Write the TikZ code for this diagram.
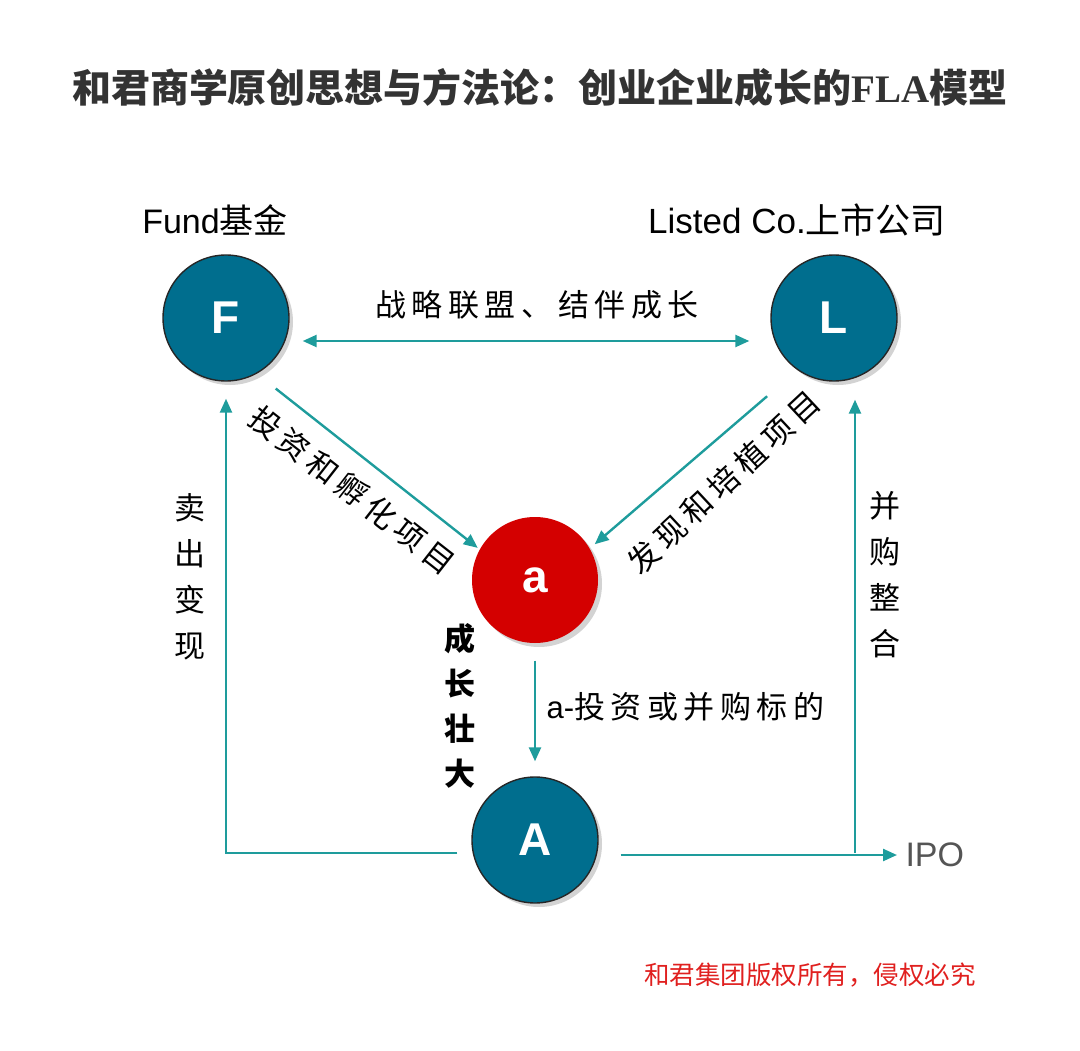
\documentclass[tikz,border=0pt]{standalone}
\usepackage{fontspec}
\setmainfont{Liberation Sans}
\newfontfamily\cjk{Noto Sans CJK SC}
\newfontfamily\cjkk{Noto Sans CJK SC}[LetterSpace=18]
\newfontfamily\titlefont{Liberation Serif}
\usetikzlibrary{arrows.meta, shadows}

\definecolor{ballblue}{HTML}{006E8E}
\definecolor{flowteal}{HTML}{1E9C9C}
\definecolor{ballred}{HTML}{D40000}
\definecolor{titlegray}{HTML}{333333}
\definecolor{ipogray}{HTML}{555555}
\definecolor{copyred}{HTML}{E0201F}

\begin{document}
\begin{tikzpicture}[x=1pt, y=-1pt, >={Triangle[length=14pt, width=12pt]},
    ball/.style={circle, draw=black!85, line width=1.4pt, minimum size=126pt, inner sep=0pt,
        fill=ballblue, text=white, font=\fontsize{46}{46}\selectfont\bfseries,
        drop shadow={shadow xshift=4pt, shadow yshift=-4pt, opacity=0.35}},
    flow/.style={line width=2.4pt, flowteal},
    lbl/.style={font=\fontsize{31}{31}\selectfont\cjkk},
    vlbl/.style={align=center, font=\fontsize{31}{46}\selectfont\cjk}]

    \useasboundingbox (0,0) rectangle (1080,1051);

    % Title
    \node[titlegray] (title) at (540,88) {\fontsize{39}{39}\selectfont\cjk\bfseries
        和君商学原创思想与方法论：创业企业成长的{\titlefont\bfseries FLA}模型};

    % Circles
    \node[ball] (F) at (226,318) {F};
    \node[ball] (L) at (834,318) {L};
    \node[ball, fill=ballred, draw=none] (a) at (535,580) {a};
    \node[ball] (A) at (535,840) {A};

    % Names above F and L
    \node (fundname) at (215,220) {\fontsize{34}{34}\selectfont Fund{\cjk 基金}};
    \node (listname) at (797,220) {\fontsize{35}{35}\selectfont Listed Co.{\cjk 上市公司}};

    % IPO
    \node[anchor=west, ipogray, font=\fontsize{34}{34}\selectfont] (ipo) at (902,855) {IPO};
    \coordinate (m) at (855,853);

    % Connectors
    \draw[flow, <->, shorten <=13pt, shorten >=21pt] ([yshift=-23pt]F.east) -- ([yshift=-23pt]L.west);
    \draw[flow, ->, shorten <=24pt, shorten >=2pt] (F.-61) -- (a.151);
    \draw[flow, ->, shorten <=40pt, shorten >=6pt] (L.-125) -- (a.30);
    \draw[flow, ->, shorten <=17pt, shorten >=15pt] (a) -- (A);
    \draw[flow, ->, shorten >=17pt] ([xshift=-14pt, yshift=-13pt]A.west) -| (F.south);
    \draw[flow, ->, shorten >=5pt] ([xshift=22pt]ipo.west -| A.east) -- (ipo.west);
    \draw[flow, ->, shorten >=18pt] (m) -- (m |- L.south);

    % Labels
    \node[lbl] (ally) at (537,305) {战略联盟、结伴成长};
    \node[lbl, rotate=-38] (invest) at (352,490) {投资和孵化项目};
    \node[lbl, rotate=43] (discover) at (724,482) {发现和培植项目};
    \node[lbl, anchor=west] (target) at (543,707) {{\fontsize{31}{31}\selectfont\normalfont a-}投资或并购标的};
    \node[vlbl] (sell) at (190,577) {卖\\出\\变\\现};
    \node[vlbl] (merge) at (885,575) {并\\购\\整\\合};
    \node[vlbl, font=\fontsize{31}{45}\selectfont\cjk\bfseries] (grow) at (460,706) {成\\长\\壮\\大};

    % Copyright
    \node[copyred, font=\fontsize{25.5}{25.5}\selectfont\cjk] (copy) at (810,975) {和君集团版权所有，侵权必究};

\end{tikzpicture}
\end{document}
